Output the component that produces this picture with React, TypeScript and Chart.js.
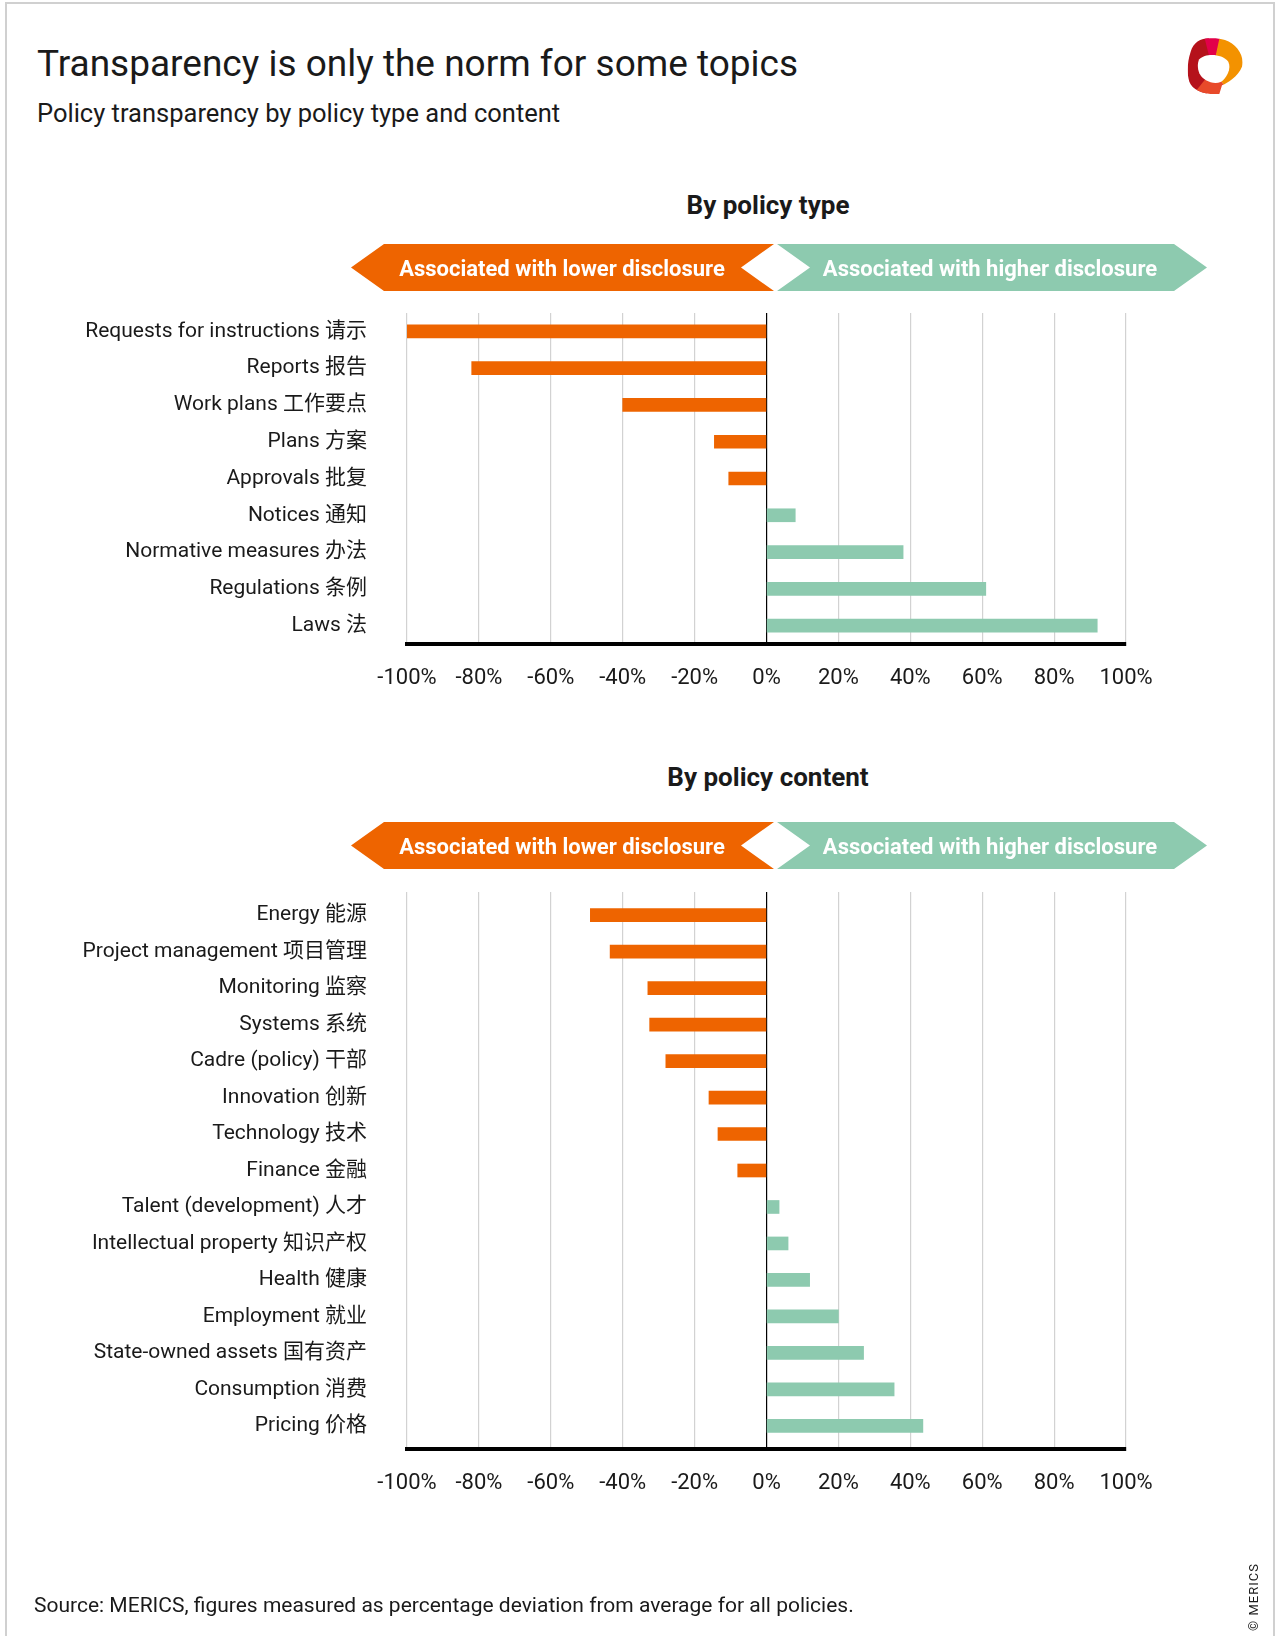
import React, { useEffect, useRef } from "react";
import { Chart, registerables } from "chart.js";
Chart.register(...registerables);

const typeLabels = [
  "Requests for instructions 请示",
  "Reports 报告",
  "Work plans 工作要点",
  "Plans 方案",
  "Approvals 批复",
  "Notices 通知",
  "Normative measures 办法",
  "Regulations 条例",
  "Laws 法",
];
const typeValues = [-100, -82, -40, -14.5, -10.5, 8, 38, 61, 92];

const contentLabels = [
  "Energy 能源",
  "Project management 项目管理",
  "Monitoring 监察",
  "Systems 系统",
  "Cadre (policy) 干部",
  "Innovation 创新",
  "Technology 技术",
  "Finance 金融",
  "Talent (development) 人才",
  "Intellectual property 知识产权",
  "Health 健康",
  "Employment 就业",
  "State-owned assets 国有资产",
  "Consumption 消费",
  "Pricing 价格",
];
const contentValues = [-49, -43.5, -33, -32.5, -28, -16, -13.5, -8, 3.5, 6, 12, 20, 27, 35.5, 43.5];

const tickValues = [-100, -80, -60, -40, -20, 0, 20, 40, 60, 80, 100];

const ORANGE = "#EE6400";
const GREEN = "#8DCAAF";
const FONT = "Roboto, 'Noto Sans CJK SC', sans-serif";
const PLOT_LEFT = 407;
const PLOT_RIGHT = 1126;
const W = 1281;

type PanelProps = {
  labels: string[];
  values: number[];
  top: number;
  height: number;
  plotTop: number;
  plotBottom: number;
  edge: number;
};

function BarPanel({ labels, values, top, height, plotTop, plotBottom, edge }: PanelProps) {
  const ref = useRef<HTMLCanvasElement>(null);
  useEffect(() => {
    const edgePlugin = {
      id: "categoryEdge",
      afterLayout: (chart: any) => {
        const s = chart.scales.y;
        s._startValue = -edge;
        s._valueRange = labels.length - 1 + 2 * edge;
      },
    };
    const chart = new Chart(ref.current as HTMLCanvasElement, {
      type: "bar",
      data: {
        labels,
        datasets: [
          {
            data: values,
            backgroundColor: values.map((v) => (v < 0 ? ORANGE : GREEN)),
            barThickness: 13,
            borderWidth: 0,
          },
        ],
      },
      plugins: [edgePlugin],
      options: {
        indexAxis: "y",
        animation: false,
        responsive: false,
        maintainAspectRatio: false,
        devicePixelRatio: 1,
        layout: { padding: { top: plotTop - top, right: W - PLOT_RIGHT, left: 0, bottom: 0 } },
        plugins: { legend: { display: false }, tooltip: { enabled: false } },
        scales: {
          x: {
            type: "linear",
            min: -100,
            max: 100,
            afterBuildTicks: (s: any) => {
              s.ticks = tickValues.map((v) => ({ value: v }));
            },
            afterFit: (s: any) => {
              s.height = top + height - plotBottom;
              s.paddingLeft = 0;
              s.paddingRight = 0;
            },
            ticks: {
              padding: 21,
              color: "#1a1a1a",
              font: { family: FONT, size: 22 },
              callback: (v: any) => `${v}%`,
              maxRotation: 0,
              autoSkip: false,
            },
            grid: {
              drawTicks: false,
              color: (ctx: any) => (ctx.tick && ctx.tick.value === 0 ? "#000000" : "#d2d2d2"),
              lineWidth: 1.2,
            },
            border: { display: true, color: "#000000", width: 4 },
          },
          y: {
            type: "category",
            afterFit: (s: any) => {
              s.width = PLOT_LEFT;
              s.paddingTop = 0;
              s.paddingBottom = 0;
            },
            grid: { display: false, drawTicks: false },
            border: { display: false },
            ticks: {
              padding: 40,
              color: "#1a1a1a",
              font: { family: FONT, size: 21 },
              autoSkip: false,
            },
          },
        },
      },
    });
    return () => chart.destroy();
  }, []);
  return (
    <canvas
      ref={ref}
      width={W}
      height={height}
      style={{ position: "absolute", left: 0, top, width: W, height }}
    />
  );
}

function Banner({ y0 }: { y0: number }) {
  const y1 = y0 + 47;
  const ym = (y0 + y1) / 2;
  return (
    <g>
      <polygon
        points={`351,${ym} 384,${y0} 774,${y0} 741,${ym} 774,${y1} 384,${y1}`}
        fill={ORANGE}
      />
      <polygon
        points={`777,${y0} 1174,${y0} 1207,${ym} 1174,${y1} 777,${y1} 810,${ym}`}
        fill={GREEN}
      />
      <text
        x={562}
        y={ym + 8}
        textAnchor="middle"
        fill="#ffffff"
        style={{ font: `bold 22px ${FONT}` }}
      >
        Associated with lower disclosure
      </text>
      <text
        x={990}
        y={ym + 8}
        textAnchor="middle"
        fill="#ffffff"
        style={{ font: `bold 22px ${FONT}` }}
      >
        Associated with higher disclosure
      </text>
    </g>
  );
}

function Logo() {
  const outer =
    "M150,55 C120,55 100,68 92,95 C82,125 80,160 88,185 C98,210 130,225 178,222 L186,196 C200,190 235,170 246,140 C255,110 230,70 195,60 C180,56 165,54 150,55 Z";
  return (
    <g transform="translate(1160,20) scale(0.3333)">
      <defs>
        <clipPath id="logoClip">
          <path d={outer} />
        </clipPath>
      </defs>
      <g clipPath="url(#logoClip)">
        <polygon points="0,0 140,0 158,150 120,300 0,300" fill="#B5121B" />
        <polygon points="158,150 120,0 195,0" fill="#E2004A" />
        <polygon points="158,150 190,0 330,0 330,200 196,200" fill="#F39200" />
        <polygon points="158,150 196,200 196,300 90,300 110,210" fill="#E84A2A" />
      </g>
      <path d="M118,118 C135,100 185,100 205,125 C215,145 200,175 182,186 C160,195 128,182 118,160 C112,145 112,128 118,118 Z" fill="#ffffff" />
    </g>
  );
}

export default function App() {
  useEffect(() => {
    document.body.style.margin = "0";
  }, []);
  const textColor = "#1a1a1a";
  return (
    <div style={{ position: "absolute", left: 0, top: 0, width: W, height: 1636, overflow: "hidden", background: "#fff", fontFamily: FONT }}>
      <div style={{ position: "absolute", left: 5, top: 2, width: 1266, height: 1660, border: "2px solid #d0d0d0" }} />
      <div style={{ position: "absolute", left: 37, top: 41, fontSize: 37, color: textColor, whiteSpace: "nowrap", lineHeight: "46px" }}>
        Transparency is only the norm for some topics
      </div>
      <div style={{ position: "absolute", left: 37, top: 98, fontSize: 25.5, color: textColor, whiteSpace: "nowrap", lineHeight: "30px" }}>
        Policy transparency by policy type and content
      </div>
      <div style={{ position: "absolute", left: 568, width: 400, top: 190, textAlign: "center", fontSize: 26, fontWeight: "bold", color: textColor, lineHeight: "30px" }}>
        By policy type
      </div>
      <div style={{ position: "absolute", left: 568, width: 400, top: 762, textAlign: "center", fontSize: 26, fontWeight: "bold", color: textColor, lineHeight: "30px" }}>
        By policy content
      </div>
      <BarPanel labels={typeLabels} values={typeValues} top={300} height={400} plotTop={313} plotBottom={644} edge={0.5} />
      <BarPanel labels={contentLabels} values={contentValues} top={880} height={620} plotTop={892} plotBottom={1449} edge={0.636} />
      <svg width={W} height={1636} style={{ position: "absolute", left: 0, top: 0, pointerEvents: "none" }}>
        <Banner y0={244} />
        <Banner y0={822} />
        <Logo />
      </svg>
      <div style={{ position: "absolute", left: 34, top: 1591, fontSize: 21, color: textColor, whiteSpace: "nowrap", lineHeight: "28px" }}>
        Source: MERICS, figures measured as percentage deviation from average for all policies.
      </div>
      <div
        style={{
          position: "absolute",
          left: 1253,
          top: 1597,
          fontSize: 13,
          letterSpacing: 1,
          color: textColor,
          whiteSpace: "nowrap",
          transform: "translate(-50%, -50%) rotate(-90deg)",
        }}
      >
        © MERICS
      </div>
    </div>
  );
}
